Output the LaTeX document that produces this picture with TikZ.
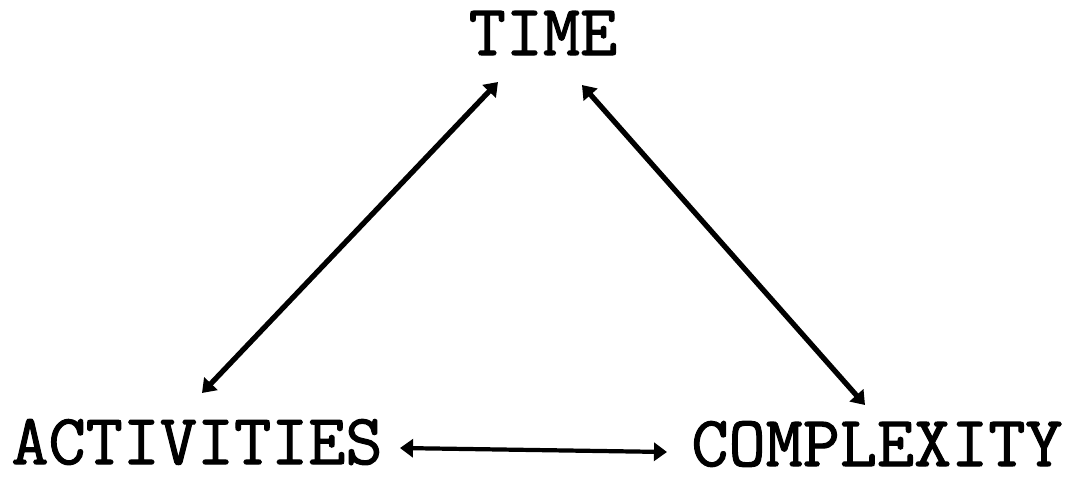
\documentclass[tikz,border=0pt]{standalone}
\usepackage{fontspec}
\newfontfamily\typewriter[FakeBold=1.5]{Latin Modern Mono}
\usetikzlibrary{arrows.meta,calc}

\begin{document}
\begin{tikzpicture}[
  word/.style={inner sep=0pt, font=\typewriter\fontsize{20.5}{21}\selectfont},
  arr/.style={{Triangle[length=1.3mm,width=1.8mm]}-{Triangle[length=1.3mm,width=1.8mm]}, line width=1.5pt}
]
\useasboundingbox (0,0) rectangle (10.76,4.78);
\node[word] (time) at (5.43,4.45) {TIME};
\node[word] (act) at (1.97,0.36) {ACTIVITIES};
\node[word] (comp) at (8.77,0.34) {COMPLEXITY};

\draw[arr] ($(act)+(0.05,0.49)$) -- ($(time)+(-0.45,-0.49)$);
\draw[arr] ($(time)+(0.39,-0.52)$) -- ($(comp)+(-0.12,0.39)$);
\draw[arr, line width=1.2pt] ($(act)+(2.03,-0.06)$) -- ($(comp)+(-2.10,-0.08)$);
\end{tikzpicture}
\end{document}
